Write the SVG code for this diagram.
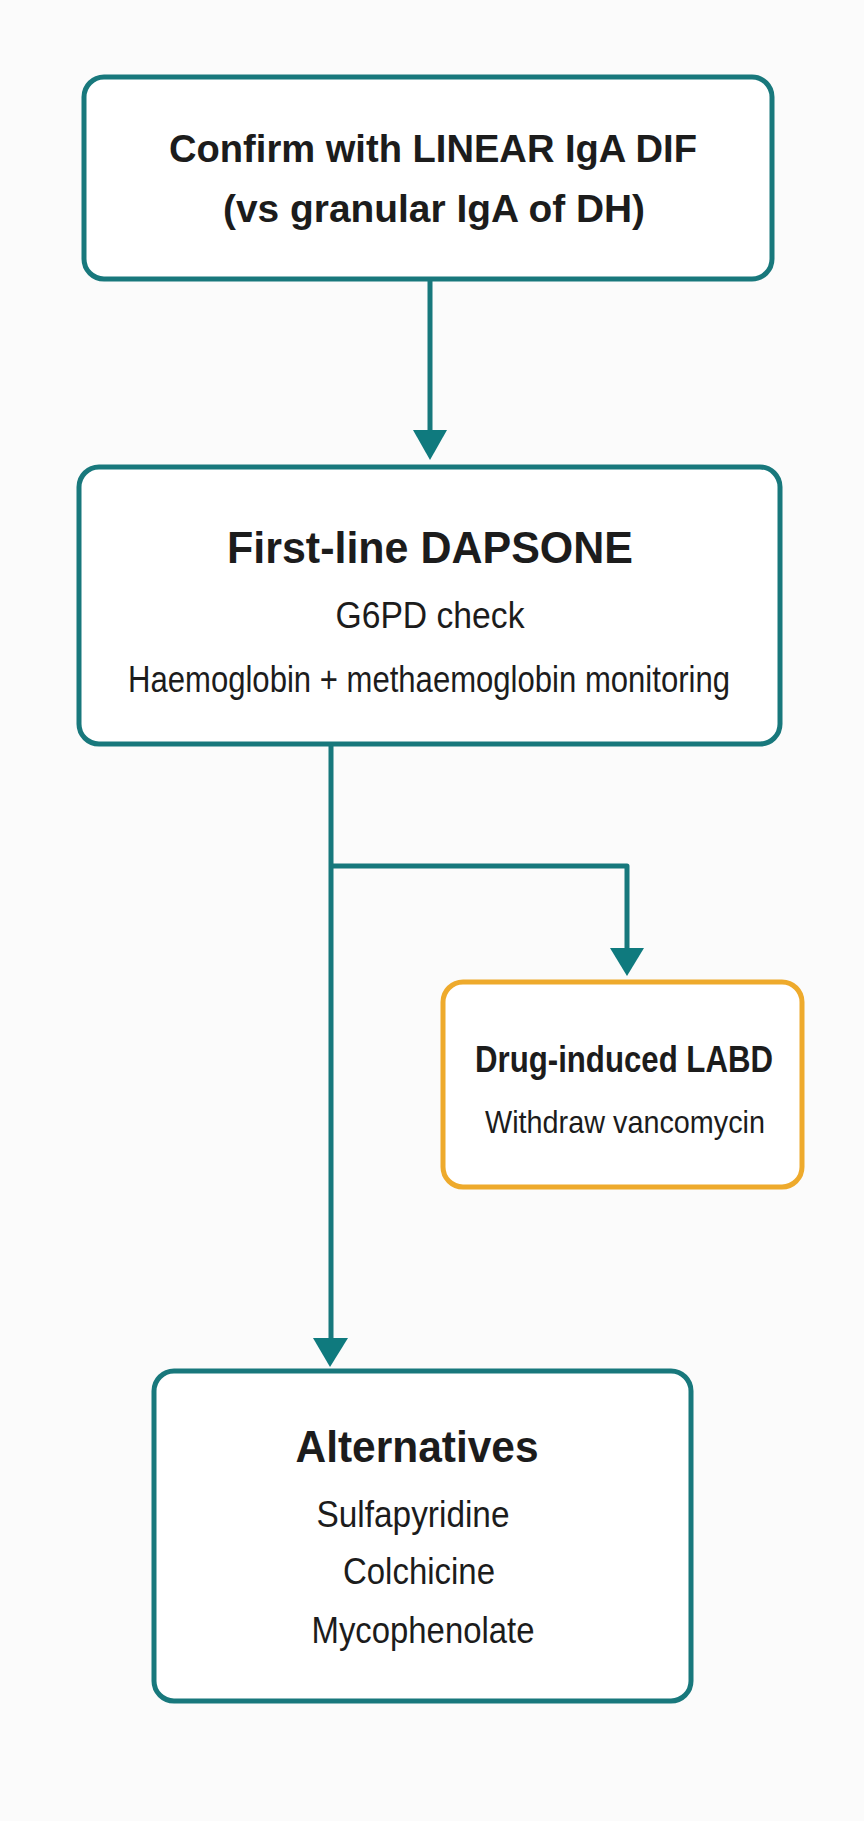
<svg xmlns="http://www.w3.org/2000/svg" width="864" height="1821" viewBox="0 0 864 1821">
  <defs>
    <style>
      .box { fill: #ffffff; stroke: #18787c; stroke-width: 5; }
      .obox { fill: #ffffff; stroke: #eeaa2c; stroke-width: 5; }
      .conn { fill: none; stroke: #17787c; stroke-width: 5; stroke-linejoin: round; }
      .head { fill: #0f7a7e; }
      .t { font-family: "Liberation Sans", Arial, sans-serif; fill: #1c1c1c; text-anchor: middle; }
      .b { font-weight: bold; }
    </style>
  </defs>
  <rect x="0" y="0" width="864" height="1821" fill="#fbfbfb"/>

  <g id="connectors">
    <line class="conn" x1="430" y1="279" x2="430" y2="434"/>
    <polygon class="head" points="413,430 447,430 430,460"/>
    <path class="conn" d="M331 744 L331 1342"/>
    <polygon class="head" points="313,1338 348,1338 330,1367"/>
    <path class="conn" d="M331 866 L627 866 L627 952"/>
    <polygon class="head" points="610,948 644,948 627,976"/>
  </g>

  <g id="node-confirm">
    <rect class="box" x="84" y="77" width="688" height="202" rx="20"/>
    <text class="t b" x="433" y="162" font-size="39" textLength="528" lengthAdjust="spacingAndGlyphs">Confirm with LINEAR IgA DIF</text>
    <text class="t b" x="434" y="222" font-size="39" textLength="422" lengthAdjust="spacingAndGlyphs">(vs granular IgA of DH)</text>
  </g>

  <g id="node-dapsone">
    <rect class="box" x="79" y="467" width="701" height="277" rx="20"/>
    <text class="t b" x="430" y="563" font-size="44" textLength="406" lengthAdjust="spacingAndGlyphs">First-line DAPSONE</text>
    <text class="t" x="430" y="628" font-size="37" textLength="189" lengthAdjust="spacingAndGlyphs">G6PD check</text>
    <text class="t" x="429" y="692" font-size="37" textLength="602" lengthAdjust="spacingAndGlyphs">Haemoglobin + methaemoglobin monitoring</text>
  </g>

  <g id="node-drug">
    <rect class="obox" x="443" y="982" width="359" height="205" rx="20"/>
    <text class="t b" x="624" y="1072" font-size="37" textLength="298" lengthAdjust="spacingAndGlyphs">Drug-induced LABD</text>
    <text class="t" x="625" y="1133" font-size="32" textLength="280" lengthAdjust="spacingAndGlyphs">Withdraw vancomycin</text>
  </g>

  <g id="node-alternatives">
    <rect class="box" x="154" y="1371" width="537" height="330" rx="20"/>
    <text class="t b" x="417" y="1462" font-size="44" textLength="243" lengthAdjust="spacingAndGlyphs">Alternatives</text>
    <text class="t" x="413" y="1527" font-size="37" textLength="193" lengthAdjust="spacingAndGlyphs">Sulfapyridine</text>
    <text class="t" x="419" y="1584" font-size="37" textLength="152" lengthAdjust="spacingAndGlyphs">Colchicine</text>
    <text class="t" x="423" y="1643" font-size="37" textLength="223" lengthAdjust="spacingAndGlyphs">Mycophenolate</text>
  </g>
</svg>
